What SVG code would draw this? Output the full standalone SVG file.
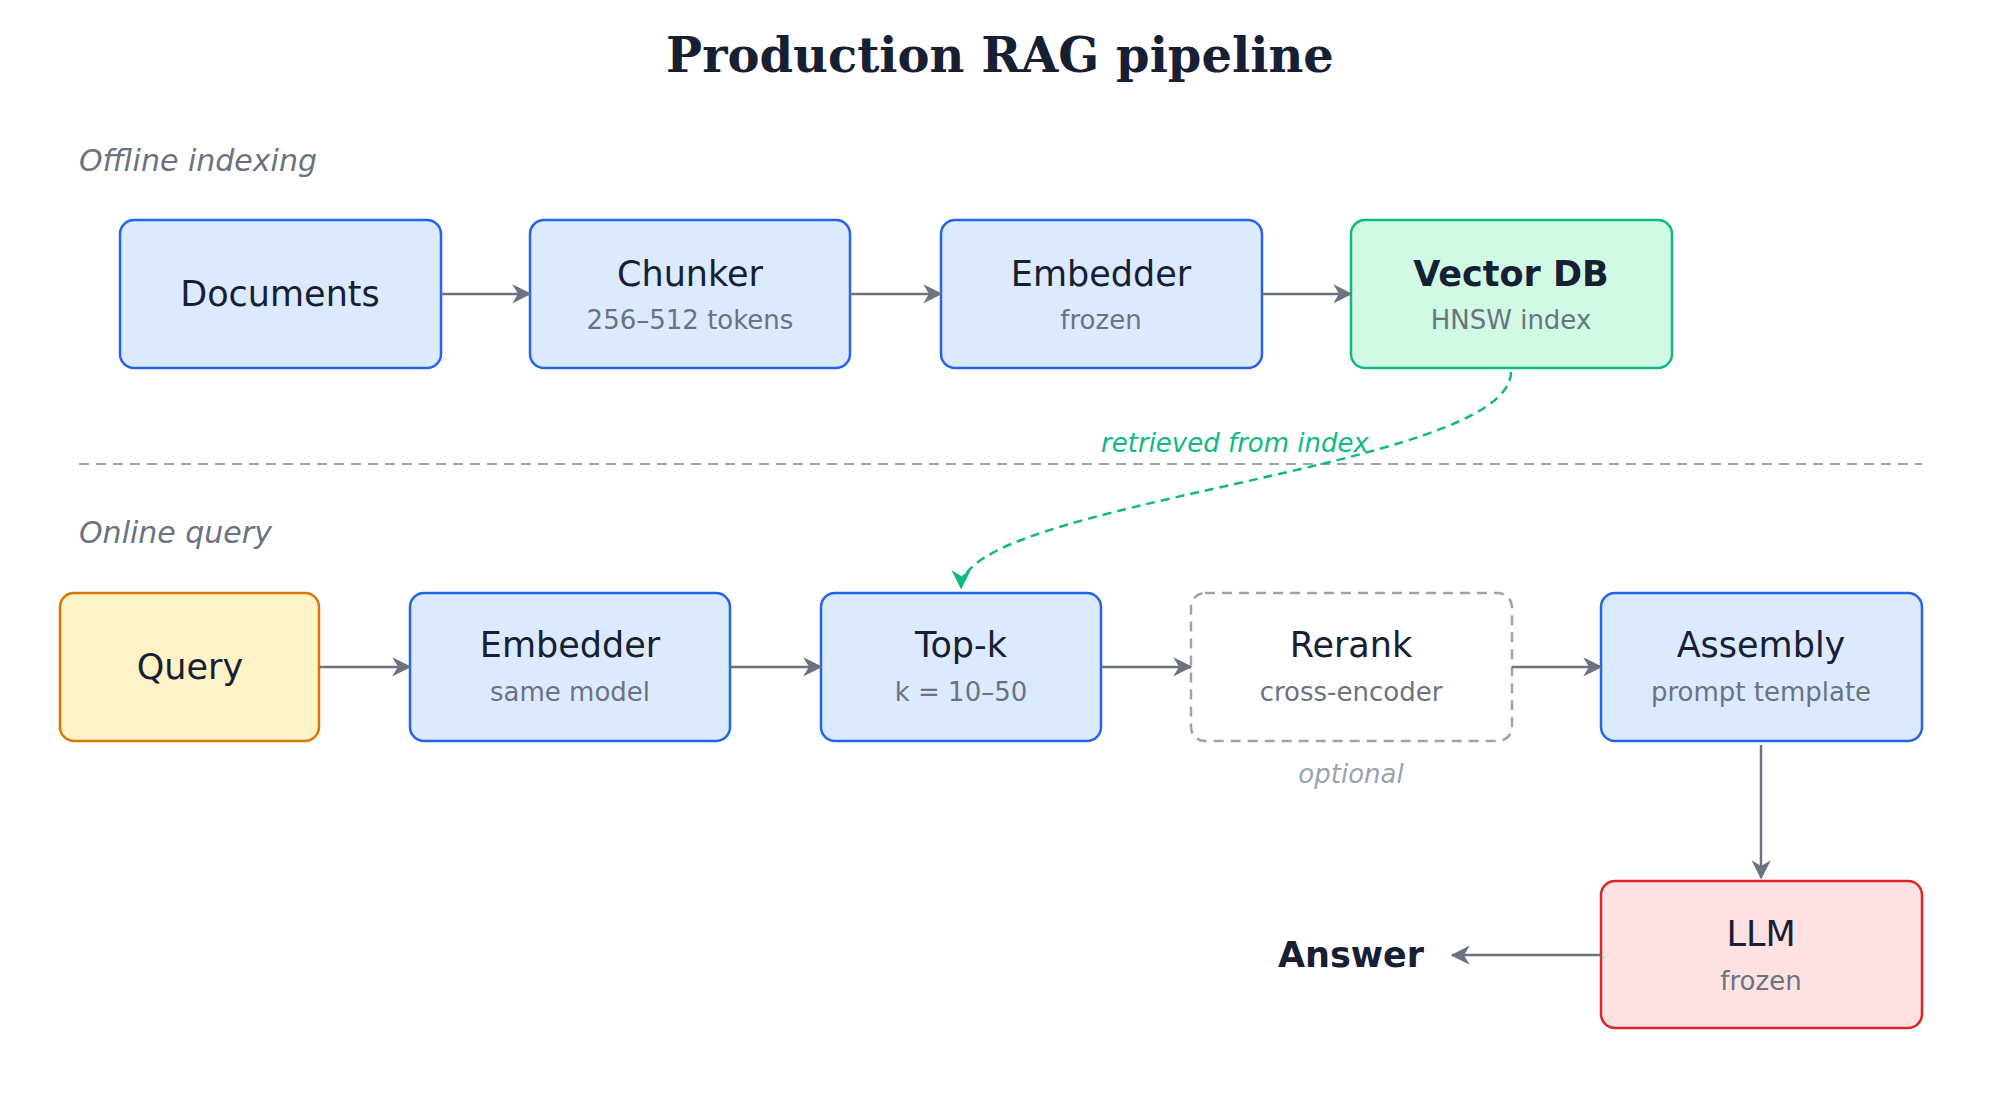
<svg xmlns="http://www.w3.org/2000/svg" width="2000" height="1120" viewBox="0 0 2000 1120">
<style>
.t{font-family:"DejaVu Sans",sans-serif;font-size:35px;fill:#172033;text-anchor:middle}
.b{font-weight:bold}
.s{font-family:"DejaVu Sans",sans-serif;font-size:26px;fill:#6b7280;text-anchor:middle}
.sec{font-family:"DejaVu Sans",sans-serif;font-size:30px;font-style:italic;fill:#6b7280}
.blue{fill:#dbeafe;stroke:#2563eb;stroke-width:2.5}
.c{stroke:#6b7280;stroke-width:2.5;fill:none}
</style>
<defs>
<marker id="ah" viewBox="0 0 10 10" refX="9" refY="5" markerWidth="8" markerHeight="8" markerUnits="userSpaceOnUse" orient="auto" style="overflow:visible">
<path d="M0,0 L10,5 L0,10 L3,5 Z" fill="#6b7280" transform="scale(2.4) translate(-5.5,-3)"/>
</marker>
<marker id="ahg" viewBox="0 0 10 10" refX="9" refY="5" markerWidth="8" markerHeight="8" markerUnits="userSpaceOnUse" orient="auto" style="overflow:visible">
<path d="M0,0 L10,5 L0,10 L3,5 Z" fill="#10b981" transform="scale(2.4) translate(-5.5,-3)"/>
</marker>
</defs>
<rect width="2000" height="1120" fill="#fff"/>
<text x="1000" y="72" font-family="DejaVu Serif,serif" font-size="48" font-weight="bold" fill="#172033" text-anchor="middle">Production RAG pipeline</text>
<text class="sec" x="79" y="171">Offline indexing</text>
<text class="sec" x="79" y="543">Online query</text>
<line x1="79" y1="464" x2="1922" y2="464" stroke="#9ca3af" stroke-width="2" stroke-dasharray="10,7"/>
<g id="documents"><rect class="blue" x="120" y="220" width="321" height="148" rx="14"/><text class="t" x="280" y="306">Documents</text></g>
<g id="chunker"><rect class="blue" x="530" y="220" width="320" height="148" rx="14"/><text class="t" x="690" y="286">Chunker</text><text class="s" x="690" y="329">256–512 tokens</text></g>
<g id="embedder1"><rect class="blue" x="941" y="220" width="321" height="148" rx="14"/><text class="t" x="1101" y="286">Embedder</text><text class="s" x="1101" y="329">frozen</text></g>
<g id="vectordb"><rect x="1351" y="220" width="321" height="148" rx="14" fill="#d1fae5" stroke="#10b981" stroke-width="2.5"/><text class="t b" x="1511" y="286">Vector DB</text><text class="s" x="1511" y="329">HNSW index</text></g>
<g id="query"><rect x="60" y="593" width="259" height="148" rx="14" fill="#fef3c7" stroke="#d97706" stroke-width="2.5"/><text class="t" x="190" y="679">Query</text></g>
<g id="embedder2"><rect class="blue" x="410" y="593" width="320" height="148" rx="14"/><text class="t" x="570" y="657">Embedder</text><text class="s" x="570" y="701">same model</text></g>
<g id="topk"><rect class="blue" x="821" y="593" width="280" height="148" rx="14"/><text class="t" x="961" y="657">Top-k</text><text class="s" x="961" y="701">k = 10–50</text></g>
<g id="rerank"><rect x="1191" y="593" width="321" height="148" rx="14" fill="#fff" stroke="#9ca3af" stroke-width="2.5" stroke-dasharray="10,7"/><text class="t" x="1351" y="657">Rerank</text><text class="s" x="1351" y="701">cross-encoder</text><text class="s" x="1351" y="783" font-style="italic" fill="#9ca3af" style="fill:#9ca3af">optional</text></g>
<g id="assembly"><rect class="blue" x="1601" y="593" width="321" height="148" rx="14"/><text class="t" x="1761" y="657">Assembly</text><text class="s" x="1761" y="701">prompt template</text></g>
<g id="llm"><rect x="1601" y="881" width="321" height="147" rx="14" fill="#fee2e2" stroke="#dc2626" stroke-width="2.5"/><text class="t" x="1761" y="946">LLM</text><text class="s" x="1761" y="990">frozen</text></g>
<g id="answer"><text class="t b" x="1351" y="967">Answer</text></g>
<g id="connectors">
<line class="c" x1="441" y1="294" x2="530" y2="294" marker-end="url(#ah)"/>
<line class="c" x1="850" y1="294" x2="941" y2="294" marker-end="url(#ah)"/>
<line class="c" x1="1262" y1="294" x2="1351" y2="294" marker-end="url(#ah)"/>
<line class="c" x1="319" y1="667" x2="410" y2="667" marker-end="url(#ah)"/>
<line class="c" x1="730" y1="667" x2="821" y2="667" marker-end="url(#ah)"/>
<line class="c" x1="1101" y1="667" x2="1191" y2="667" marker-end="url(#ah)"/>
<line class="c" x1="1512" y1="667" x2="1601" y2="667" marker-end="url(#ah)"/>
<line class="c" x1="1761" y1="745" x2="1761" y2="878" marker-end="url(#ah)"/>
<line class="c" x1="1601" y1="955" x2="1452" y2="955" marker-end="url(#ah)"/>
<path d="M1511,372 C1511,470 961,500 961,588" fill="none" stroke="#10b981" stroke-width="2.5" stroke-dasharray="9,6" marker-end="url(#ahg)"/>
<text x="1235" y="452" font-family="DejaVu Sans,sans-serif" font-size="26" font-style="italic" fill="#10b981" text-anchor="middle">retrieved from index</text>
</g>
</svg>
